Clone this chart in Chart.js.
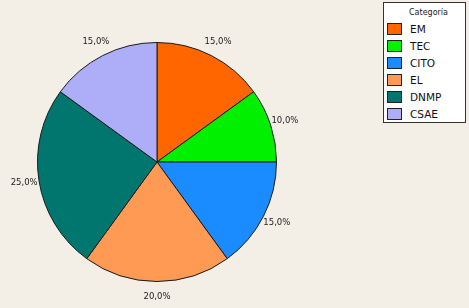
<!DOCTYPE html>
<html><head><meta charset="utf-8">
<script src="https://cdn.jsdelivr.net/npm/chart.js@4/dist/chart.umd.min.js"></script>
<style>
html,body{margin:0;padding:0;background:#f3efe6;}
#wrap{position:relative;width:469px;height:308px;}
#legend{position:absolute;left:383px;top:2px;width:83px;height:121px;background:#fff;border:1px solid #333;box-sizing:border-box;font-family:"DejaVu Sans",sans-serif;}
#legend .title{font-size:8px;color:#222;text-align:center;margin:5px 0 0 8px;height:12px;}
#legend .row{height:17px;display:flex;align-items:center;}
#legend .sw{width:15px;height:12px;border:1px solid #222;margin-left:3px;margin-right:8px;box-sizing:border-box;}
#legend .lb{font-size:10.5px;color:#111;}
</style></head>
<body><div id="wrap"><canvas id="c" width="469" height="308"></canvas><div id="legend"></div></div>
<script>
const categories = ["EM","TEC","CITO","EL","DNMP","CSAE"];
const values = [15,10,15,20,25,15];
const colors = ["#ff6600","#00f000","#1a8cff","#ff9a55","#00766f","#aeaef8"];
const legendTitle = "Categoría";

const leg = document.getElementById('legend');
let h = '<div class="title">'+legendTitle+'</div>';
categories.forEach((c,i)=>{ h += '<div class="row"><div class="sw" style="background:'+colors[i]+'"></div><span class="lb">'+c+'</span></div>'; });
leg.innerHTML = h;

const total = values.reduce((a,b)=>a+b,0);
const labelPlugin = {
  id:'pctLabels',
  afterDatasetsDraw(chart){
    const ctx = chart.ctx;
    const meta = chart.getDatasetMeta(0);
    ctx.save();
    ctx.font = '8.5px "DejaVu Sans", sans-serif';
    ctx.fillStyle = '#222';
    ctx.textAlign = 'center';
    ctx.textBaseline = 'middle';
    meta.data.forEach((arc,i)=>{
      const mid = (arc.startAngle+arc.endAngle)/2;
      const r = arc.outerRadius + 15;
      const x = arc.x + Math.cos(mid)*r;
      const y = arc.y + Math.sin(mid)*r;
      ctx.fillText((values[i]/total*100).toFixed(1).replace('.',',')+'%', x, y);
    });
    ctx.restore();
  }
};

new Chart(document.getElementById('c'), {
  type:'pie',
  data:{labels:categories, datasets:[{data:values, backgroundColor:colors, borderColor:'#1a1a1a', borderWidth:1}]},
  options:{
    responsive:false, animation:false,
    layout:{padding:{top:42,bottom:26,left:37,right:192}},
    plugins:{legend:{display:false}, tooltip:{enabled:false}}
  },
  plugins:[labelPlugin]
});
</script></body></html>
